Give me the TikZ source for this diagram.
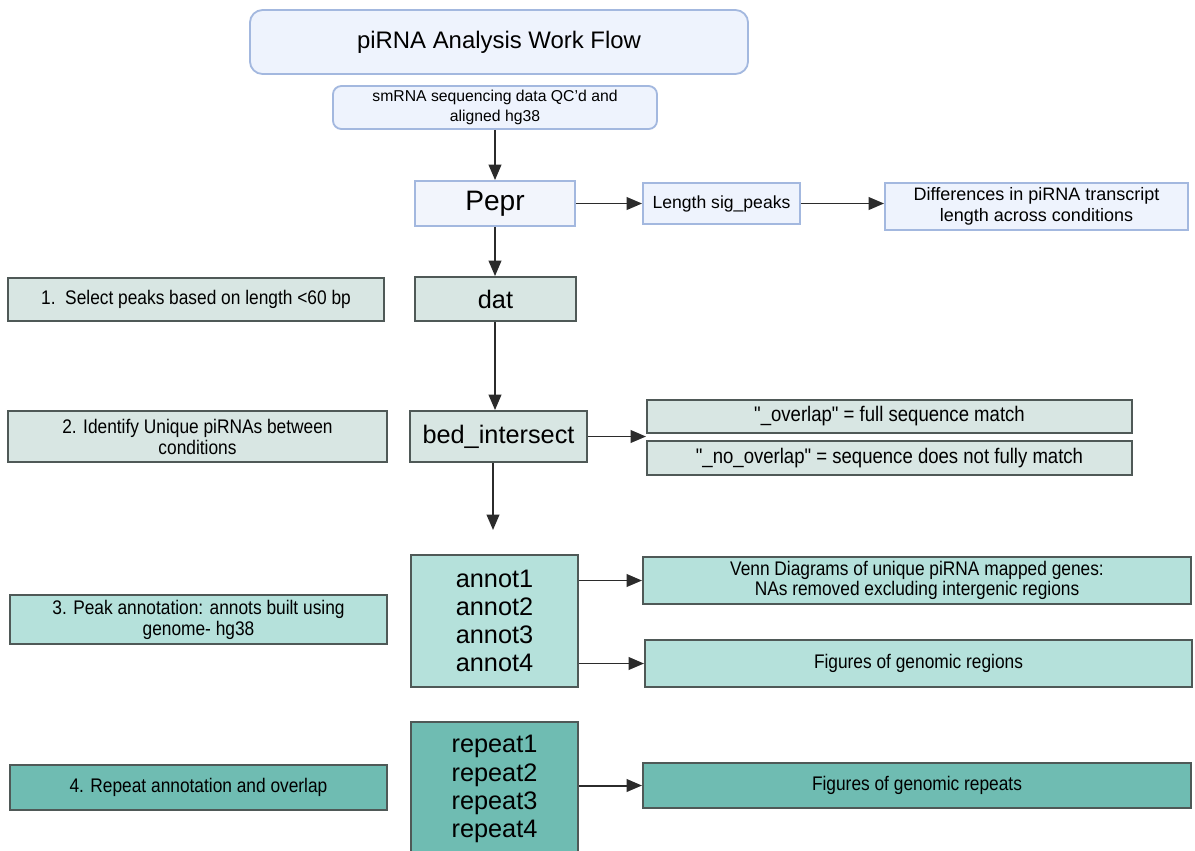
\documentclass[tikz,border=0pt]{standalone}
\usepackage{fontspec}
\setmainfont{Liberation Sans}
\newfontfamily\narrowfont[FakeStretch=0.88]{Liberation Sans}
\usetikzlibrary{arrows.meta}

\definecolor{bluefill}{HTML}{EEF3FD}
\definecolor{blueline}{HTML}{A3B8DF}
\definecolor{greyfill}{HTML}{D8E6E3}
\definecolor{darkline}{HTML}{4F5957}
\definecolor{annotfill}{HTML}{B5E1DB}
\definecolor{repfill}{HTML}{6FBCB2}
\definecolor{arrowcol}{HTML}{2B2B2B}

\begin{document}
\begin{tikzpicture}[x=0.025cm, y=-0.025cm]
\tikzstyle{bluebox} = [draw=blueline, fill=bluefill, line width=1.3pt, inner sep=0pt, align=center]
\tikzstyle{greenbox} = [draw=darkline, fill=greyfill, line width=1.3pt, inner sep=0pt, align=center, font=\narrowfont\fontsize{14}{15}\selectfont]
\tikzstyle{annotbox} = [greenbox, fill=annotfill]
\tikzstyle{repbox} = [greenbox, fill=repfill]
\tikzstyle{bigtext} = [font=\fontsize{18}{20}\selectfont]
\tikzstyle{arrow} = [draw=arrowcol, line width=1.4pt, -{Triangle[length=11pt,width=9pt]}]

\useasboundingbox (0,0) rectangle (1195,850);

\node[bluebox, rounded corners=9pt, minimum width=12.45cm, minimum height=1.6cm, font=\fontsize{17}{20}\selectfont] (title) at (499,42) {piRNA Analysis Work Flow};
\node[bluebox, rounded corners=6pt, minimum width=8.1cm, minimum height=1.075cm, font=\fontsize{11.2}{14}\selectfont] (smrna) at (495,107.5) {smRNA sequencing data QC'd and\\aligned hg38};

\node[bluebox, fill=bluefill!80!blueline!40, minimum width=4cm, minimum height=1.125cm, font=\fontsize{20}{22}\selectfont] (pepr) at (495,203.5) {Pepr};
\node[bluebox, minimum width=3.925cm, minimum height=1.025cm, font=\fontsize{12.5}{14}\selectfont] (lensig) at (721.5,203.5) {Length sig\_peaks};
\node[bluebox, minimum width=7.575cm, minimum height=1.175cm, font=\fontsize{12.8}{15}\selectfont] (diffs) at (1036.5,206.5) {Differences in piRNA transcript\\length across conditions};

\node[greenbox, bigtext, minimum width=4.025cm, minimum height=1.1cm] (dat) at (495.5,299) {dat};
\node[greenbox, minimum width=9.4cm, minimum height=1.075cm] (sel) at (196,299.5) {1.\ \ Select peaks based on length <60 bp};

\node[greenbox, bigtext, minimum width=4.425cm, minimum height=1.275cm] (bedint) at (498.5,436.5) {bed\_intersect};
\node[greenbox, minimum width=9.475cm, minimum height=1.275cm] (uniq) at (197.5,436.5) {2. Identify Unique piRNAs between\\conditions};
\node[greenbox, minimum width=12.125cm, minimum height=0.825cm, font=\narrowfont\fontsize{15}{16}\selectfont] (ovl) at (889.5,416.5) {"\_overlap" = full sequence match};
\node[greenbox, minimum width=12.125cm, minimum height=0.85cm, font=\narrowfont\fontsize{15}{16}\selectfont] (novl) at (889.5,458) {"\_no\_overlap" = sequence does not fully match};
\coordinate (gap) at (493,530);

\node[annotbox, bigtext, minimum width=4.175cm, minimum height=3.3cm] (annot) at (494.5,621) {annot1\\annot2\\annot3\\annot4};
\node[annotbox, minimum width=9.425cm, minimum height=1.225cm] (peakann) at (198.5,619.5) {3. Peak annotation: annots built using\\genome- hg38};
\node[annotbox, minimum width=13.7cm, minimum height=1.175cm, font=\narrowfont\fontsize{14}{14.5}\selectfont] (venn) at (917,580.5) {Venn Diagrams of unique piRNA mapped genes:\\NAs removed excluding intergenic regions};
\node[annotbox, minimum width=13.675cm, minimum height=1.175cm] (genreg) at (918.5,663.5) {Figures of genomic regions};

\node[repbox, bigtext, minimum width=4.175cm, minimum height=3.35cm] (rep) at (494.5,789) {repeat1\\repeat2\\repeat3\\repeat4};
\node[repbox, minimum width=9.425cm, minimum height=1.125cm] (repann) at (198.5,787.5) {4. Repeat annotation and overlap};
\node[repbox, minimum width=13.7cm, minimum height=1.125cm] (genrep) at (917,785.5) {Figures of genomic repeats};

\path (smrna.south -| pepr.north) edge[arrow] (pepr.north);
\path (pepr.east) edge[arrow] (lensig.west);
\path (lensig.east) edge[arrow] (diffs.west |- lensig.east);
\path (pepr.south) edge[arrow] (dat.north -| pepr.south);
\path (dat.south -| pepr.south) edge[arrow] (bedint.north -| pepr.south);
\path (bedint.east) edge[arrow] (bedint.east -| ovl.west);
\path (bedint.south -| gap) edge[arrow] (gap);
\path (venn.west -| annot.east) edge[arrow] (venn.west);
\path (genreg.west -| annot.east) edge[arrow] (genreg.west);
\path (genrep.west -| rep.east) edge[arrow] (genrep.west);
\end{tikzpicture}
\end{document}
